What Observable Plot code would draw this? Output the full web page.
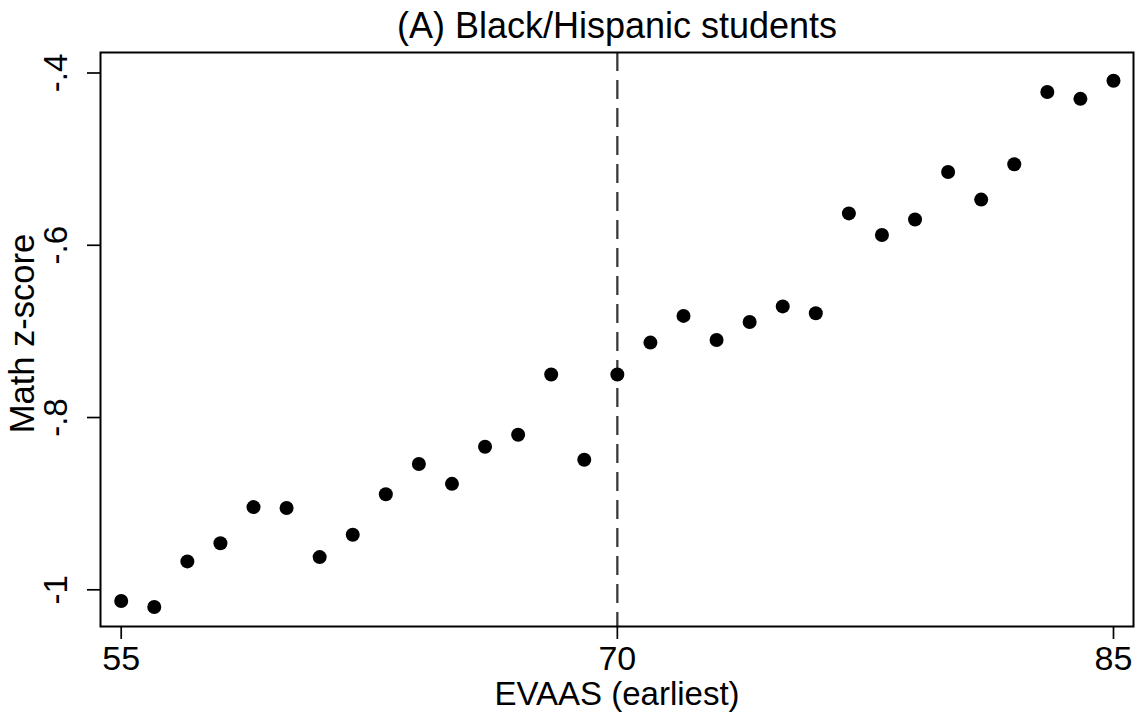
<!DOCTYPE html>
<html>
<head>
<meta charset="utf-8">
<script src="https://cdn.jsdelivr.net/npm/d3@7"></script>
<script src="https://cdn.jsdelivr.net/npm/@observablehq/plot@0.6"></script>
<style>
  html, body { margin: 0; padding: 0; background: #fff; }
  #chart svg { display: block; }
</style>
</head>
<body>
<div id="chart"></div>
<script>
// Binned scatter: mean math z-score by earliest EVAAS score
const evaas = [55, 56, 57, 58, 59, 60, 61, 62, 63, 64, 65, 66, 67, 68, 69, 70,
               71, 72, 73, 74, 75, 76, 77, 78, 79, 80, 81, 82, 83, 84, 85];
const mathZ = [-1.013, -1.020, -0.967, -0.946, -0.904, -0.905, -0.962, -0.936,
               -0.889, -0.854, -0.877, -0.834, -0.820, -0.750, -0.849, -0.750,
               -0.713, -0.682, -0.710, -0.689, -0.671, -0.679, -0.563, -0.588,
               -0.570, -0.515, -0.547, -0.506, -0.422, -0.430, -0.409];
const cutoff = [70];
const xTicks = [55, 70, 85];
const yTicks = [-1, -0.8, -0.6, -0.4];
const yTickLabels = ["-1", "-.8", "-.6", "-.4"];
const title = "(A) Black/Hispanic students";
const xTitle = "EVAAS (earliest)";
const yTitle = "Math z-score";

const points = evaas.map((x, i) => ({x, y: mathZ[i]}));
const font = "'Liberation Sans', Arial, Helvetica, sans-serif";

const chart = Plot.plot({
  width: 1138,
  height: 715,
  marginLeft: 100,
  marginRight: 5,
  marginTop: 52,
  marginBottom: 89,
  style: {fontFamily: font, fontSize: "34px", background: "#fff", color: "#000"},
  x: {domain: [54.374, 85.605], axis: null},
  y: {domain: [-1.0426, -0.3762], axis: null},
  marks: [
    Plot.ruleX(cutoff, {stroke: "#3a3a3a", strokeWidth: 2.3, strokeDasharray: "19,9"}),
    Plot.dot(points, {x: "x", y: "y", r: 7, fill: "#000", stroke: "none"}),
    Plot.frame({stroke: "#000", strokeWidth: 2}),
    Plot.axisX({ticks: xTicks, tickSize: 13, tickPadding: 6, strokeWidth: 1.7,
                fontSize: 34, label: null, tickFormat: d => String(d)}),
    Plot.axisY({ticks: yTicks, tickSize: 13, tickPadding: 21, tickRotate: -90,
                strokeWidth: 1.7, fontSize: 33, label: null,
                tickFormat: d => yTickLabels[yTicks.indexOf(d)]}),
    Plot.text([title], {frameAnchor: "top", lineAnchor: "bottom", dy: -15,
                        fontSize: 36, fill: "#000"}),
    Plot.text([xTitle], {frameAnchor: "bottom", lineAnchor: "bottom", dy: 78,
                         fontSize: 33, fill: "#000"}),
    Plot.text([yTitle], {frameAnchor: "left", textAnchor: "middle", lineAnchor: "bottom",
                         rotate: -90, dx: -67, dy: -6, fontSize: 34.5, fill: "#000"})
  ]
});

document.getElementById("chart").appendChild(chart);
</script>
</body>
</html>
